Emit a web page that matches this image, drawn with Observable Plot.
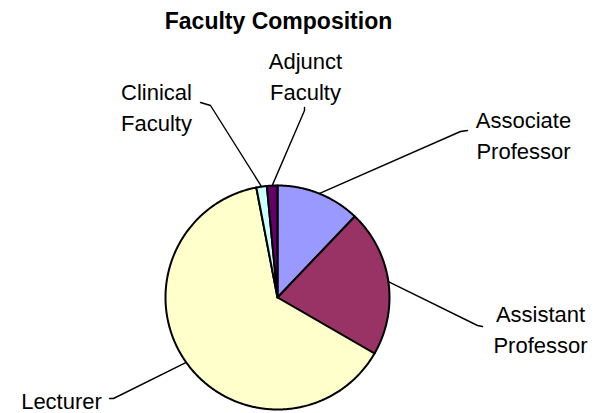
<!DOCTYPE html>
<html>
<head>
<meta charset="utf-8">
<script src="https://cdn.jsdelivr.net/npm/d3@7"></script>
<script src="https://cdn.jsdelivr.net/npm/@observablehq/plot@0.6"></script>
<style>
  html, body { margin: 0; padding: 0; background: #ffffff; }
  #chart svg { display: block; font-family: "Liberation Sans", Arial, sans-serif; }
  #chart svg text.lbl { letter-spacing: 1.3px; }
  #chart svg text.ttl { letter-spacing: 1.3px; }
</style>
</head>
<body>
<div id="chart"></div>
<script>
// ---- data ----
const title = "Faculty Composition";
const categories = ["Associate Professor", "Assistant Professor", "Lecturer", "Clinical Faculty", "Adjunct Faculty"];
const counts = [8, 14, 42, 1, 1];
const labelLines = ["Associate\nProfessor", "Assistant\nProfessor", "Lecturer", "Clinical\nFaculty", "Adjunct\nFaculty"];
const colors = ["#9999FF", "#993366", "#FFFFCC", "#CCFFFF", "#660066"];

// ---- layout (pixels) ----
const W = 610, H = 413;
const cx = 277, cy = 297, R = 112;
const labelAnchor = [[523, 105], [540, 299], [61, 386], [156, 77], [305, 46]]; // text centre x, cap-top y
const leaderElbow = [[[460, 131], [467, 130]], [[477, 325], [482, 326]], [[113, 398], [109, 398]], [[210, 105], [200, 102]], [[304, 110], [304, 107]]];
const titlePos = [278, 12];

const px = (x) => (x - cx) / R;
const py = (y) => (cy - y) / R;

// ---- slices ----
const arcs = d3.pie().sort(null).value((d, i) => counts[i])(categories);
const slicePts = [];
arcs.forEach((a, i) => {
  const cat = categories[i];
  slicePts.push({cat, x: 0, y: 0});
  const n = Math.max(2, Math.ceil((a.endAngle - a.startAngle) / (Math.PI / 360)));
  for (let k = 0; k <= n; k++) {
    const t = a.startAngle + (a.endAngle - a.startAngle) * k / n;
    slicePts.push({cat, x: Math.sin(t), y: Math.cos(t)});
  }
});

// ---- leader lines ----
const leaderPts = [];
arcs.forEach((a, i) => {
  const m = (a.startAngle + a.endAngle) / 2;
  leaderPts.push({cat: categories[i], x: Math.sin(m), y: Math.cos(m)});
  leaderElbow[i].forEach(([ex, ey]) => leaderPts.push({cat: categories[i], x: px(ex), y: py(ey)}));
});

const labels = categories.map((c, i) => ({cat: c, text: labelLines[i], x: px(labelAnchor[i][0]), y: py(labelAnchor[i][1])}));

const chart = Plot.plot({
  width: W,
  height: H,
  margin: 0,
  x: {domain: [-1, 1], range: [cx - R, cx + R], axis: null},
  y: {domain: [-1, 1], range: [cy + R, cy - R], axis: null},
  color: {domain: categories, range: colors},
  style: {background: "#ffffff", color: "#000000", fontFamily: "'Liberation Sans', Arial, sans-serif"},
  marks: [
    Plot.line(slicePts, {x: "x", y: "y", z: "cat", fill: "cat", stroke: "#000000", strokeWidth: 2, strokeLinejoin: "round", curve: "linear-closed"}),
    Plot.line(leaderPts, {x: "x", y: "y", z: "cat", stroke: "#000000", strokeWidth: 1.4}),
    Plot.text(labels, {x: "x", y: "y", text: "text", fontSize: 22, lineAnchor: "top", lineHeight: 1.41, textAnchor: "middle", fill: "#000000", className: "lbl"}),
    Plot.text([title], {x: () => px(titlePos[0]), y: () => py(titlePos[1]), text: d => d, fontSize: 23, fontWeight: "bold", lineAnchor: "top", textAnchor: "middle", fill: "#000000", className: "ttl"})
  ]
});
document.getElementById("chart").appendChild(chart);
</script>
</body>
</html>
